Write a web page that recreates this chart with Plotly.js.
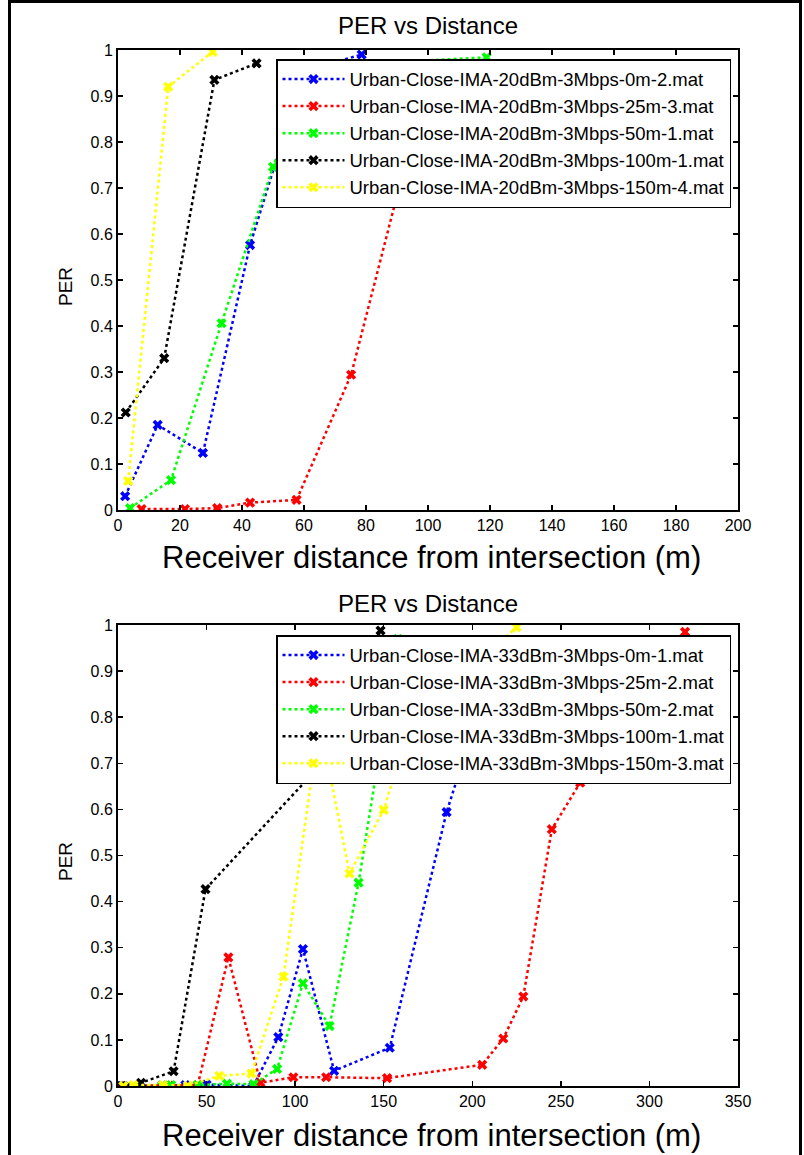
<!DOCTYPE html>
<html>
<head>
<meta charset="utf-8">
<script src="https://cdn.plot.ly/plotly-3.0.1.min.js"></script>
<style>html,body{margin:0;padding:0;background:#fff;}#chart{width:804px;height:1155px;}</style>
</head>
<body>
<div id="chart"></div>
<script>
// ---- Top chart (20 dBm) ----
var names20 = ["Urban-Close-IMA-20dBm-3Mbps-0m-2.mat","Urban-Close-IMA-20dBm-3Mbps-25m-3.mat","Urban-Close-IMA-20dBm-3Mbps-50m-1.mat","Urban-Close-IMA-20dBm-3Mbps-100m-1.mat","Urban-Close-IMA-20dBm-3Mbps-150m-4.mat"];
var blue20x = [2.3, 12.8, 27.4, 42.6, 60, 78.6];
var blue20y = [0.03, 0.185, 0.124, 0.576, 0.955, 0.99];
var red20x = [7.6, 21.6, 32, 42.6, 57.6, 75.2, 95, 110];
var red20y = [0.002, 0.002, 0.004, 0.016, 0.022, 0.294, 0.815, 0.97];
var green20x = [3.9, 17.1, 33.4, 50, 62, 118.9];
var green20y = [0.004, 0.065, 0.406, 0.746, 0.965, 0.984];
var black20x = [2.5, 14.9, 31.1, 44.7];
var black20y = [0.212, 0.33, 0.935, 0.971];
var yellow20x = [3.3, 16.2, 30.5];
var yellow20y = [0.063, 0.92, 0.996];

// ---- Bottom chart (33 dBm) ----
var names33 = ["Urban-Close-IMA-33dBm-3Mbps-0m-1.mat","Urban-Close-IMA-33dBm-3Mbps-25m-2.mat","Urban-Close-IMA-33dBm-3Mbps-50m-2.mat","Urban-Close-IMA-33dBm-3Mbps-100m-1.mat","Urban-Close-IMA-33dBm-3Mbps-150m-3.mat"];
var blue33x = [2, 6, 25, 38, 50, 76.4, 90.5, 104.4, 122, 153.4, 185.5, 202, 216];
var blue33y = [0, 0, 0.001, 0.002, 0.003, 0, 0.106, 0.297, 0.033, 0.083, 0.594, 0.794, 0.695];
var red33x = [1, 29, 45, 62.3, 80.4, 99, 117.5, 151.9, 205.6, 217.5, 228.8, 244.9, 260.9, 272.5, 320.1];
var red33y = [0, 0.001, 0.002, 0.279, 0.007, 0.019, 0.019, 0.017, 0.046, 0.103, 0.194, 0.557, 0.658, 0.77, 0.985];
var green33x = [3, 12, 25, 30, 45, 61.5, 76.6, 89.8, 104.4, 119.4, 135.8, 158];
var green33y = [0, 0, 0.001, 0.002, 0.002, 0.005, 0.004, 0.037, 0.223, 0.13, 0.441, 0.97];
var black33x = [2, 13, 31.4, 49.4, 120, 148.2];
var black33y = [0, 0.007, 0.032, 0.427, 0.72, 0.988];
var yellow33x = [3, 8.7, 25.5, 39.4, 57.2, 75.3, 93.4, 113.8, 130.7, 150, 165, 225];
var yellow33y = [0, 0.002, 0.002, 0.001, 0.022, 0.027, 0.237, 0.79, 0.461, 0.599, 0.79, 0.995];

var colors = ["#0000ff", "#ff0000", "#00ff00", "#000000", "#ffff00"];
var xTicks20 = [0, 20, 40, 60, 80, 100, 120, 140, 160, 180, 200];
var xTicks33 = [0, 50, 100, 150, 200, 250, 300, 350];
var yTicks = [0, 0.1, 0.2, 0.3, 0.4, 0.5, 0.6, 0.7, 0.8, 0.9, 1];
var yTickText = ["0", "0.1", "0.2", "0.3", "0.4", "0.5", "0.6", "0.7", "0.8", "0.9", "1"];

var set20 = [[blue20x, blue20y], [red20x, red20y], [green20x, green20y], [black20x, black20y], [yellow20x, yellow20y]];
var set33 = [[blue33x, blue33y], [red33x, red33y], [green33x, green33y], [black33x, black33y], [yellow33x, yellow33y]];

var traces = [];
function mk(d, i, name, xa, ya, leg, grp) {
  return {
    x: d[0], y: d[1], name: name, type: "scatter", mode: "lines+markers",
    xaxis: xa, yaxis: ya, legend: leg, legendgroup: grp,
    line: {color: colors[i], width: 2.5, dash: "dot"},
    marker: {symbol: "x", size: 9, color: colors[i]}
  };
}
set20.forEach(function (d, i) { traces.push(mk(d, i, names20[i], "x", "y", "legend", "a" + i)); });
set33.forEach(function (d, i) { traces.push(mk(d, i, names33[i], "x2", "y2", "legend2", "b" + i)); });

var W = 804, H = 1155;
function px(v) { return v / W; }
function py(v) { return (H - v) / H; }

var fontFam = "Liberation Sans, Arial, Helvetica, sans-serif";
var axCommon = {
  showgrid: false, zeroline: false, showline: true, linecolor: "#000", linewidth: 2,
  mirror: "ticks", ticks: "inside", ticklen: 5, tickwidth: 1.5, tickcolor: "#000",
  tickfont: {family: fontFam, size: 16, color: "#000"}
};
function ax(extra) { return Object.assign({}, axCommon, extra); }

var legCommon = {
  bgcolor: "#fff", bordercolor: "#000", borderwidth: 1.5,
  font: {family: fontFam, size: 18.5, color: "#000"},
  xanchor: "left", yanchor: "top", traceorder: "grouped", tracegroupgap: 0, itemwidth: 62
};

var layout = {
  width: W, height: H, paper_bgcolor: "#fff", plot_bgcolor: "#fff",
  margin: {l: 0, r: 0, t: 0, b: 0}, showlegend: true,
  xaxis: ax({domain: [px(118), px(738)], range: [0, 200], tickvals: xTicks20, anchor: "y"}),
  yaxis: ax({domain: [py(510), py(50)], range: [0, 1], tickvals: yTicks, ticktext: yTickText, anchor: "x"}),
  xaxis2: ax({domain: [px(118), px(738)], range: [0, 350], tickvals: xTicks33, anchor: "y2"}),
  yaxis2: ax({domain: [py(1086), py(625)], range: [0, 1], tickvals: yTicks, ticktext: yTickText, anchor: "x2"}),
  legend: Object.assign({}, legCommon, {x: px(276), y: py(59)}),
  legend2: Object.assign({}, legCommon, {x: px(276), y: py(635)}),
  annotations: [
    {text: "PER vs Distance", x: px(428), y: py(25), xref: "paper", yref: "paper", showarrow: false, xanchor: "center", yanchor: "middle", font: {family: fontFam, size: 24, color: "#000"}},
    {text: "PER vs Distance", x: px(428), y: py(603), xref: "paper", yref: "paper", showarrow: false, xanchor: "center", yanchor: "middle", font: {family: fontFam, size: 24, color: "#000"}},
    {text: "Receiver distance from intersection (m)", x: px(431), y: py(557), xref: "paper", yref: "paper", showarrow: false, xanchor: "center", yanchor: "middle", font: {family: fontFam, size: 31, color: "#000"}},
    {text: "Receiver distance from intersection (m)", x: px(431), y: py(1135), xref: "paper", yref: "paper", showarrow: false, xanchor: "center", yanchor: "middle", font: {family: fontFam, size: 31, color: "#000"}},
    {text: "PER", x: px(65), y: py(287), xref: "paper", yref: "paper", showarrow: false, textangle: -90, xanchor: "center", yanchor: "middle", font: {family: fontFam, size: 19, color: "#000"}},
    {text: "PER", x: px(65), y: py(862), xref: "paper", yref: "paper", showarrow: false, textangle: -90, xanchor: "center", yanchor: "middle", font: {family: fontFam, size: 19, color: "#000"}}
  ],
  shapes: [
    {type: "rect", xref: "paper", yref: "paper", x0: px(9.5), x1: px(800.5), y0: py(1170), y1: py(1.5), line: {color: "#000", width: 3}, fillcolor: "rgba(0,0,0,0)"}
  ]
};

Plotly.newPlot("chart", traces, layout, {displayModeBar: false, staticPlot: true});
</script>
</body>
</html>
